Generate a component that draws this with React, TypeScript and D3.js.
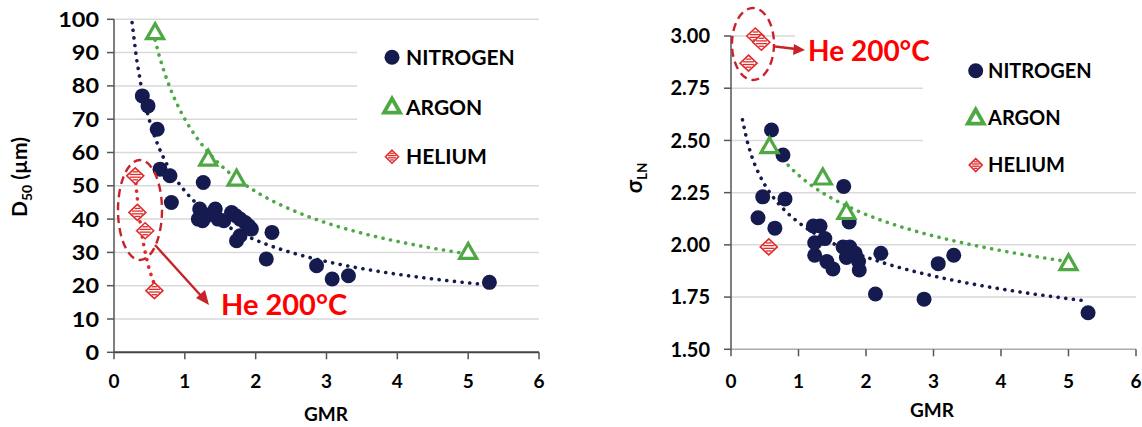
import React from "react";
import * as d3 from "d3";

// ---------- data ----------
const nitrogenD50: [number, number][] = [
  [0.40, 77], [0.48, 74], [0.61, 67], [0.65, 55], [0.79, 53], [0.81, 45],
  [1.26, 51], [1.21, 43], [1.19, 40], [1.25, 39.5], [1.31, 41], [1.40, 42],
  [1.47, 40], [1.43, 43], [1.55, 39.5], [1.66, 42], [1.72, 41], [1.78, 40],
  [1.85, 39], [1.90, 38], [1.94, 37], [1.73, 33.5], [1.78, 35], [2.23, 36],
  [2.15, 28], [2.86, 26], [3.08, 22], [3.31, 23], [5.30, 21],
];
const argonD50: [number, number][] = [[0.58, 96], [1.33, 58], [1.73, 52], [5.0, 30]];
const heliumD50: [number, number][] = [[0.30, 53], [0.33, 42], [0.44, 36.5], [0.57, 18.5]];

const nitrogenSigma: [number, number][] = [
  [0.60, 2.55], [0.77, 2.43], [0.47, 2.23], [0.80, 2.22], [0.40, 2.13], [0.65, 2.08],
  [1.67, 2.28], [1.75, 2.11], [1.22, 2.09], [1.32, 2.09], [1.39, 2.03], [1.24, 2.01],
  [1.24, 1.95], [1.42, 1.92], [1.51, 1.885], [1.66, 1.99], [1.76, 1.99], [1.84, 1.96],
  [1.71, 1.94], [1.89, 1.92], [1.90, 1.88], [2.22, 1.96], [2.14, 1.765], [2.86, 1.74],
  [3.07, 1.91], [3.30, 1.95], [5.29, 1.675],
];
const argonSigma: [number, number][] = [[0.57, 2.47], [1.36, 2.32], [1.71, 2.155], [5.0, 1.91]];
const heliumSigma: [number, number][] = [[0.36, 3.0], [0.45, 2.97], [0.26, 2.87], [0.56, 1.99]];

// trendline x-extents (power trendlines)
const trendN_D50: [number, number] = [0.255, 5.3];
const trendAr_D50: [number, number] = [0.58, 5.0];
const trendHe_D50: [number, number] = [0.30, 0.57];
const trendN_Sig: [number, number] = [0.17, 5.29];
const trendAr_Sig: [number, number] = [0.57, 5.0];

const xTicks = [0, 1, 2, 3, 4, 5, 6];
const yTicksD50 = [0, 10, 20, 30, 40, 50, 60, 70, 80, 90, 100];
const yTicksSig = [1.5, 1.75, 2.0, 2.25, 2.5, 2.75, 3.0];
const legendItems = ["NITROGEN", "ARGON", "HELIUM"];
const calloutText = "He 200°C";

// ---------- styles ----------
const NAVY = "#151a4f";
const GREEN = "#4ea843";
const RED = "#e02b2b";
const DARKRED = "#c8232a";
const TXTRED = "#ff0000";
const GRID = "#d9d9d9";
const FONT = "Lato, 'Open Sans', sans-serif";

function powerFit(pts: [number, number][]) {
  const lx = pts.map((p) => Math.log(p[0]));
  const ly = pts.map((p) => Math.log(p[1]));
  const mx = d3.mean(lx)!;
  const my = d3.mean(ly)!;
  let sxy = 0, sxx = 0;
  for (let i = 0; i < lx.length; i++) {
    sxy += (lx[i] - mx) * (ly[i] - my);
    sxx += (lx[i] - mx) ** 2;
  }
  const b = sxy / sxx;
  const a = Math.exp(my - b * mx);
  return (x: number) => a * Math.pow(x, b);
}

function trendPath(pts: [number, number][], ext: [number, number], xs: any, ys: any) {
  const f = powerFit(pts);
  const n = 80;
  const data = d3.range(n + 1).map((i) => ext[0] + ((ext[1] - ext[0]) * i) / n);
  return d3.line<number>().x((v) => xs(v)).y((v) => ys(f(v))).curve(d3.curveLinear)(data)!;
}

const Circle = ({ x, y, r = 7.5 }: any) => <circle cx={x} cy={y} r={r} fill={NAVY} />;
const Tri = ({ x, y, s = 17, sw = 3.2 }: any) => {
  const h = s * 0.88;
  const p = `M${x},${y - h * 0.6}L${x + s / 2},${y + h * 0.4}L${x - s / 2},${y + h * 0.4}Z`;
  return <path d={p} fill="#fff" stroke={GREEN} strokeWidth={sw} strokeLinejoin="miter" />;
};
const Diamond = ({ x, y, w = 8.5, h = 8 }: any) => {
  const p = `M${x},${y - h}L${x + w},${y}L${x},${y + h}L${x - w},${y}Z`;
  const offs = [-h * 0.5, -h * 0.17, h * 0.17, h * 0.5];
  return (
    <g>
      <path d={p} fill="#fff" stroke={RED} strokeWidth={1.6} />
      {offs.map((o, i) => {
        const hw = w * (1 - Math.abs(o) / h) - 1.5;
        return <line key={i} x1={x - hw} x2={x + hw} y1={y + o} y2={y + o} stroke={RED} strokeWidth={1.3} />;
      })}
    </g>
  );
};

export default function App() {
  const xL = d3.scaleLinear().domain([0, 6]).range([114, 539]);
  const yL = d3.scaleLinear().domain([0, 100]).range([352.3, 19.3]);
  const xR = d3.scaleLinear().domain([0, 6]).range([731, 1136]);
  const yR = d3.scaleLinear().domain([1.5, 3.0]).range([349.3, 36]);

  const dotStyle = (c: string) => ({
    fill: "none", stroke: c, strokeWidth: 3.6, strokeDasharray: "0.1 7.6", strokeLinecap: "round" as const,
  });

  const markerShape = (i: number, x: number, y: number) =>
    i === 0 ? <Circle x={x} y={y} r={7.5} /> :
    i === 1 ? <Tri x={x} y={y} s={16} sw={3.8} /> :
    <Diamond x={x} y={y} w={6.5} h={6.5} />;

  return (
    <svg width={1142} height={427} style={{ position: "absolute", left: 0, top: 0, background: "#fff" }}
      fontFamily={FONT}>
      <rect x={0} y={0} width={1142} height={427} fill="#fff" />
      {/* ================= LEFT CHART ================= */}
      <g>
        {yTicksD50.filter((t) => t > 0).map((t) => (
          <line key={t} x1={xL(0)} x2={xL(6)} y1={yL(t)} y2={yL(t)} stroke={GRID} strokeWidth={1.5} />
        ))}
        <rect x={357} y={yL(100) + 1.5} width={xL(6) - 357 + 2} height={yL(50) - yL(100) - 3} fill="#fff" />
        <line x1={xL(0)} x2={xL(0)} y1={yL(100)} y2={yL(0)} stroke="#555" strokeWidth={1.5} />
        <line x1={xL(0)} x2={xL(6)} y1={yL(0)} y2={yL(0)} stroke="#444" strokeWidth={2} />
        {yTicksD50.map((t) => (
          <g key={t}>
            <line x1={xL(0) - 7} x2={xL(0)} y1={yL(t)} y2={yL(t)} stroke="#555" strokeWidth={1.5} />
            <text x={99} y={yL(t)} dy="0.36em" textAnchor="end" fontSize={21} fontWeight={700} fill="#000"
              textLength={String(t).length * 13.6} lengthAdjust="spacingAndGlyphs">{t}</text>
          </g>
        ))}
        {xTicks.map((t) => (
          <g key={t}>
            <line x1={xL(t)} x2={xL(t)} y1={yL(0)} y2={yL(0) + 7} stroke="#555" strokeWidth={1.5} />
            <text x={xL(t)} y={381} dy="0.36em" textAnchor="middle" fontSize={19} fontWeight={700}>{t}</text>
          </g>
        ))}
        <text x={326} y={414} dy="0.36em" textAnchor="middle" fontSize={19} fontWeight={700}>GMR</text>
        <text transform="translate(27,177) rotate(-90)" textAnchor="middle" fontSize={21} fontWeight={700}>
          D<tspan fontSize={14} dy={5}>50</tspan><tspan dy={-5}> (µm)</tspan>
        </text>

        <path d={trendPath(nitrogenD50, trendN_D50, xL, yL)} style={dotStyle(NAVY)} />
        <path d={trendPath(argonD50, trendAr_D50, xL, yL)} style={dotStyle(GREEN)} />
        <path d={trendPath(heliumD50, trendHe_D50, xL, yL)} style={dotStyle(RED)} />

        {nitrogenD50.map((d, i) => <Circle key={i} x={xL(d[0])} y={yL(d[1])} />)}
        {argonD50.map((d, i) => <Tri key={i} x={xL(d[0])} y={yL(d[1])} />)}
        {heliumD50.map((d, i) => <Diamond key={i} x={xL(d[0])} y={yL(d[1])} />)}

        <ellipse cx={140} cy={210} rx={22} ry={50} fill="none" stroke={DARKRED} strokeWidth={2.4} strokeDasharray="8 5" />
        <line x1={155} y1={245} x2={203} y2={298} stroke={DARKRED} strokeWidth={2.4} />
        <path d="M209,305 L196,298 L205,290 Z" fill={DARKRED} />
        <text x={221} y={315} fontSize={29} fontWeight={700} fill={TXTRED}>{calloutText}</text>

        {legendItems.map((name, i) => (
          <g key={name}>
            {markerShape(i, 392, 57.3 + i * 49.7)}
            <text x={406} y={57.3 + i * 49.7} dy="0.36em" fontSize={21} fontWeight={700}>{name}</text>
          </g>
        ))}
      </g>

      {/* ================= RIGHT CHART ================= */}
      <g>
        {yTicksSig.filter((t) => t > 1.5).map((t) => (
          <line key={t} x1={xR(0)} x2={xR(6)} y1={yR(t)} y2={yR(t)} stroke={GRID} strokeWidth={1.5} />
        ))}
        <line x1={xR(0)} x2={xR(6)} y1={yR(1.5)} y2={yR(1.5)} stroke="#aaa" strokeWidth={1.5} />
        <rect x={795} y={yR(3.0) - 3} width={xR(6) - 795 + 2} height={6} fill="#fff" />
        <rect x={923} y={yR(2.75) - 3} width={xR(6) - 923 + 2} height={yR(2.5) - yR(2.75) + 6} fill="#fff" />
        <line x1={xR(0)} x2={xR(0)} y1={yR(3.0)} y2={yR(1.5)} stroke="#555" strokeWidth={1.5} />
        {yTicksSig.map((t) => (
          <g key={t}>
            <line x1={xR(0) - 7} x2={xR(0)} y1={yR(t)} y2={yR(t)} stroke="#555" strokeWidth={1.5} />
            <text x={710} y={yR(t)} dy="0.36em" textAnchor="end" fontSize={20} fontWeight={700}>{t.toFixed(2)}</text>
          </g>
        ))}
        {xTicks.map((t) => (
          <g key={t}>
            <line x1={xR(t)} x2={xR(t)} y1={yR(1.5)} y2={yR(1.5) + 7} stroke="#555" strokeWidth={1.5} />
            <text x={xR(t)} y={381} dy="0.36em" textAnchor="middle" fontSize={19} fontWeight={700}>{t}</text>
          </g>
        ))}
        <text x={932} y={410} dy="0.36em" textAnchor="middle" fontSize={19} fontWeight={700}>GMR</text>
        <text transform="translate(642,178) rotate(-90)" textAnchor="middle" fontSize={22} fontWeight={700}>
          σ<tspan fontSize={13} dy={5}>LN</tspan>
        </text>

        <path d={trendPath(nitrogenSigma, trendN_Sig, xR, yR)} style={dotStyle(NAVY)} />
        <path d={trendPath(argonSigma, trendAr_Sig, xR, yR)} style={dotStyle(GREEN)} />

        {nitrogenSigma.map((d, i) => <Circle key={i} x={xR(d[0])} y={yR(d[1])} />)}
        {argonSigma.map((d, i) => <Tri key={i} x={xR(d[0])} y={yR(d[1])} />)}
        {heliumSigma.map((d, i) => <Diamond key={i} x={xR(d[0])} y={yR(d[1])} />)}

        <ellipse cx={753} cy={44} rx={21} ry={36} fill="none" stroke={DARKRED} strokeWidth={2.4} strokeDasharray="8 5" />
        <line x1={775} y1={46.5} x2={796} y2={49} stroke={DARKRED} strokeWidth={2.4} />
        <path d="M805,50 L794,44 L793,55 Z" fill={DARKRED} />
        <text x={808} y={61} fontSize={28} fontWeight={700} fill={TXTRED}>{calloutText}</text>

        {legendItems.map((name, i) => (
          <g key={name}>
            {markerShape(i, 975.7, 70.7 + i * 47.2)}
            <text x={988} y={70.7 + i * 47.2} dy="0.36em" fontSize={20} fontWeight={700}>{name}</text>
          </g>
        ))}
      </g>
    </svg>
  );
}
